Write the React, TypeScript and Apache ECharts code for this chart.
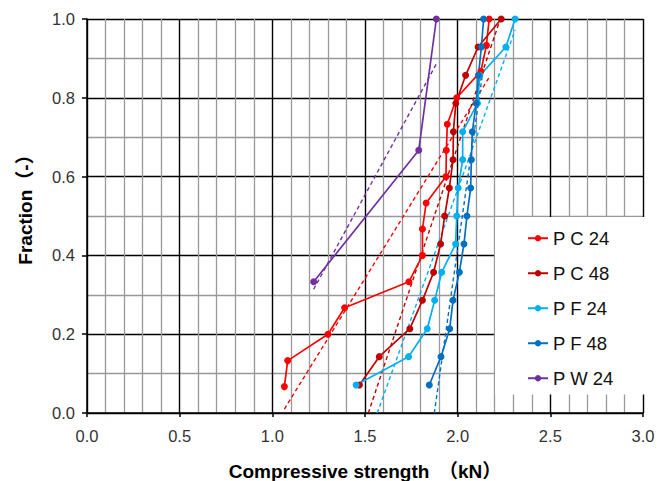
import React, { useEffect, useRef } from "react";
import * as echarts from "echarts";

// Fractions (cumulative rank / n)
const frac15 = [0.067, 0.133, 0.2, 0.267, 0.333, 0.4, 0.467, 0.533, 0.6, 0.667, 0.733, 0.8, 0.867, 0.933, 1.0];
const frac14 = [0.071, 0.143, 0.214, 0.286, 0.357, 0.429, 0.5, 0.571, 0.643, 0.714, 0.786, 0.857, 0.929, 1.0];
const frac3 = [0.333, 0.667, 1.0];

// Compressive strength (kN)
const pc24X = [1.065, 1.083, 1.3, 1.39, 1.737, 1.81, 1.81, 1.83, 1.937, 1.939, 1.944, 1.995, 2.125, 2.155, 2.17];
const pc48X = [1.47, 1.577, 1.742, 1.81, 1.87, 1.908, 1.93, 1.955, 1.975, 1.977, 1.99, 2.043, 2.11, 2.235];
const pf24X = [1.452, 1.735, 1.836, 1.876, 1.914, 1.989, 1.995, 2.003, 2.027, 2.027, 2.107, 2.12, 2.26, 2.31];
const pf48X = [1.847, 1.91, 1.957, 1.975, 2.009, 2.034, 2.05, 2.07, 2.074, 2.079, 2.1, 2.112, 2.128, 2.14];
const pw24X = [1.223, 1.79, 1.885];

// Trend lines (start / end points)
const trendPC24X = [1.065, 2.17];
const trendPC24Y = [0.01, 0.852];
const trendPC48X = [1.518, 2.23];
const trendPC48Y = [0.0, 1.0];
const trendPF24X = [1.566, 2.31];
const trendPF24Y = [0.0, 0.972];
const trendPF48X = [1.874, 2.14];
const trendPF48Y = [0.0, 0.88];
const trendPW24X = [1.223, 1.885];
const trendPW24Y = [0.314, 0.886];

const names = ["P C 24", "P C 48", "P F 24", "P F 48", "P W 24"];
const colors = ["#FF0000", "#C00000", "#00B0F0", "#0070C0", "#7030A0"];

const xTickLabels = ["0.0", "0.5", "1.0", "1.5", "2.0", "2.5", "3.0"];
const yTickLabels = ["0.0", "0.2", "0.4", "0.6", "0.8", "1.0"];

const zip = (xs: number[], ys: number[]) => xs.map((x, i) => [x, ys[i]]);

const FONT = "'Liberation Sans', Arial, 'Noto Sans CJK JP', sans-serif";

export default function App() {
  const ref = useRef<HTMLDivElement>(null);
  useEffect(() => {
    const chart = echarts.init(ref.current!, null, { renderer: "svg" });
    const solid = [
      zip(pc24X, frac15),
      zip(pc48X, frac14),
      zip(pf24X, frac14),
      zip(pf48X, frac14),
      zip(pw24X, frac3),
    ];
    const trends = [
      zip(trendPC24X, trendPC24Y),
      zip(trendPC48X, trendPC48Y),
      zip(trendPF24X, trendPF24Y),
      zip(trendPF48X, trendPF48Y),
      zip(trendPW24X, trendPW24Y),
    ];
    const series: any[] = [];
    trends.forEach((d, i) => {
      series.push({
        type: "line",
        name: names[i] + " trend",
        data: d,
        showSymbol: false,
        symbol: "none",
        lineStyle: { color: colors[i], width: 1.4, type: [4, 3] },
        itemStyle: { color: colors[i] },
        z: 2,
        silent: true,
      });
    });
    solid.forEach((d, i) => {
      series.push({
        type: "line",
        name: names[i],
        data: d,
        symbol: "circle",
        symbolSize: 7,
        lineStyle: { color: colors[i], width: 1.7 },
        itemStyle: { color: colors[i] },
        z: 3,
      });
    });
    const labelFmtX = (v: number) => xTickLabels[Math.round(v / 0.5)] ?? "";
    const labelFmtY = (v: number) => yTickLabels[Math.round(v / 0.2)] ?? "";
    chart.setOption({
      animation: false,
      textStyle: { fontFamily: FONT },
      grid: { left: 87, right: 14, top: 19, bottom: 68, containLabel: false, outerBoundsMode: "none" },
      legend: {
        data: names,
        orient: "vertical",
        left: 495,
        top: 217,
        padding: [12, 32, 7, 32],
        itemGap: 16.5,
        itemWidth: 20,
        itemHeight: 8,
        backgroundColor: "#ffffff",
        textStyle: { fontFamily: FONT, fontSize: 18.5, color: "#111", lineHeight: 18 },
      },
      xAxis: {
        type: "value",
        min: 0,
        max: 3,
        interval: 0.5,
        name: "Compressive strength\u3000\uff08kN\uff09",
        nameLocation: "middle",
        nameGap: 49,
        nameTextStyle: { fontFamily: FONT, fontSize: 19, fontWeight: "bold", color: "#000" },
        axisLine: { show: true, lineStyle: { color: "#000", width: 1.5 } },
        axisTick: { show: true, length: 4, lineStyle: { color: "#000", width: 1.5 } },
        axisLabel: { formatter: labelFmtX, fontSize: 16.5, color: "#333", margin: 15 },
        splitLine: { show: true, lineStyle: { color: "#000", width: 1.4 } },
        minorTick: { show: false, splitNumber: 5 },
        minorSplitLine: { show: true, lineStyle: { color: "#999", width: 1.3 } },
      },
      yAxis: {
        type: "value",
        min: 0,
        max: 1,
        interval: 0.2,
        name: "Fraction\uff08-\uff09",
        nameLocation: "middle",
        nameGap: 52,
        nameTextStyle: { fontFamily: FONT, fontSize: 19, fontWeight: "bold", color: "#000", padding: [0, 0, 0, 22] },
        axisLine: { show: true, lineStyle: { color: "#000", width: 1.5 } },
        axisTick: { show: true, length: 5, lineStyle: { color: "#000", width: 1.5 } },
        axisLabel: { formatter: labelFmtY, fontSize: 16.5, color: "#333", margin: 12 },
        splitLine: { show: true, lineStyle: { color: "#000", width: 1.4 } },
        minorTick: { show: false, splitNumber: 2 },
        minorSplitLine: { show: true, lineStyle: { color: "#999", width: 1.3 } },
      },
      series,
    });
    return () => chart.dispose();
  }, []);
  return (
    <div
      ref={ref}
      style={{ position: "fixed", left: 0, top: 0, width: 657, height: 481, background: "#fff" }}
    />
  );
}
